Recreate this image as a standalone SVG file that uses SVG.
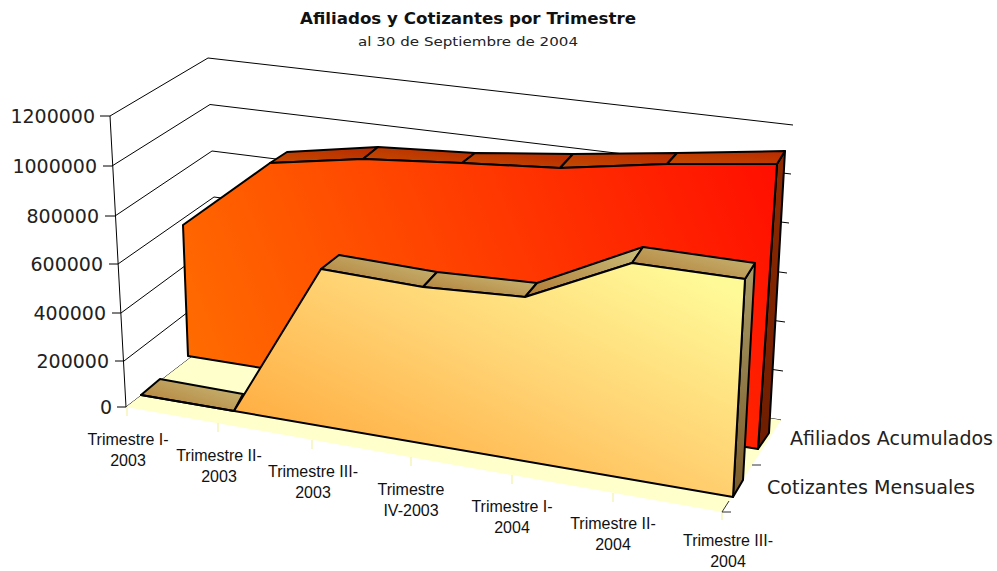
<svg xmlns="http://www.w3.org/2000/svg" width="997" height="571" viewBox="0 0 997 571">
<style>
.grid{stroke:#000;stroke-width:1;fill:none}
.edge{stroke:#000;stroke-width:2;stroke-linejoin:round}
.val{font-family:"DejaVu Sans",sans-serif;font-size:19px;fill:#222;text-anchor:end}
.cat{font-family:"Liberation Sans",Arial,sans-serif;font-size:16px;fill:#111;text-anchor:middle}
.ser{font-family:"DejaVu Sans",sans-serif;font-size:19px;fill:#222}
.ctick{stroke:#F5F5B8;stroke-width:1.5}
.dtick{stroke:#333;stroke-width:1}
</style>
<defs>
<linearGradient id="gOrange" gradientUnits="userSpaceOnUse" x1="190" y1="400" x2="780" y2="160">
<stop offset="0" stop-color="#FF6E00"/><stop offset="0.5" stop-color="#FF3E00"/><stop offset="1" stop-color="#FF0E00"/>
</linearGradient>
<linearGradient id="gYellow" gradientUnits="userSpaceOnUse" x1="300" y1="480" x2="458" y2="156">
<stop offset="0" stop-color="#FFA83A"/><stop offset="0.5" stop-color="#FFD070"/><stop offset="1" stop-color="#FFFA98"/>
</linearGradient>
<linearGradient id="gOTop" x1="0" y1="1" x2="1" y2="0">
<stop offset="0" stop-color="#C44C00"/><stop offset="1" stop-color="#B82800"/>
</linearGradient>
<linearGradient id="gOSide" x1="0" y1="0" x2="0" y2="1">
<stop offset="0" stop-color="#8E2A00"/><stop offset="1" stop-color="#6E1C00"/>
</linearGradient>
<linearGradient id="gYTop" x1="0" y1="1" x2="1" y2="0">
<stop offset="0" stop-color="#B07A34"/><stop offset="1" stop-color="#CABE7C"/>
</linearGradient>
<linearGradient id="gYSide" x1="0" y1="0" x2="0" y2="1">
<stop offset="0" stop-color="#A89C68"/><stop offset="1" stop-color="#7A5A28"/>
</linearGradient>
</defs>
<rect width="997" height="571" fill="#fff"/>

<g id="title">
<text x="468" y="24" font-family="DejaVu Sans,sans-serif" font-weight="bold" font-size="16" fill="#111" text-anchor="middle" textLength="336" lengthAdjust="spacingAndGlyphs">Afiliados y Cotizantes por Trimestre</text>
<text x="468" y="46" font-family="DejaVu Sans,sans-serif" font-size="13" fill="#222" text-anchor="middle" textLength="220" lengthAdjust="spacingAndGlyphs">al 30 de Septiembre de 2004</text>
</g>

<g id="walls">
<line class="grid" x1="126" y1="407" x2="220" y2="335"/>
<line class="grid" x1="124" y1="361" x2="218" y2="289"/>
<line class="grid" x1="121" y1="313" x2="216" y2="243"/>
<line class="grid" x1="118" y1="264" x2="214" y2="197"/>
<line class="grid" x1="115" y1="216" x2="212" y2="151"/>
<line class="grid" x1="112" y1="166" x2="210" y2="104.5"/>
<line class="grid" x1="110" y1="116" x2="208" y2="58"/>
<line class="grid" x1="220" y1="335" x2="781" y2="420"/>
<line class="grid" x1="218" y1="289" x2="783" y2="371"/>
<line class="grid" x1="216" y1="243" x2="785" y2="322"/>
<line class="grid" x1="214" y1="197" x2="787" y2="273"/>
<line class="grid" x1="212" y1="151" x2="789" y2="223"/>
<line class="grid" x1="210" y1="104.5" x2="791" y2="174"/>
<line class="grid" x1="208" y1="58" x2="793" y2="125"/>
</g>

<g id="floor">
<polygon points="126,407 722,512 781,420 220,335" fill="#FFFFCC"/>
<line class="ctick" x1="127" y1="407" x2="127" y2="416"/>
<line class="ctick" x1="218" y1="423" x2="218" y2="432"/>
<line class="ctick" x1="312" y1="440" x2="312" y2="449"/>
<line class="ctick" x1="411" y1="457" x2="411" y2="466"/>
<line class="ctick" x1="512" y1="475" x2="512" y2="484"/>
<line class="ctick" x1="613" y1="493" x2="613" y2="502"/>
<line class="ctick" x1="722" y1="512" x2="722" y2="520"/>
<line class="dtick" x1="722" y1="512" x2="731" y2="512"/>
<line class="dtick" x1="752" y1="465" x2="761" y2="465"/>
<line class="dtick" x1="722" y1="512" x2="729" y2="501"/>
</g>

<g id="series-afiliados">
<polygon class="edge" fill="url(#gOSide)" points="777,164 785,151 769,433 758,449"/>
<polygon class="edge" fill="url(#gOTop)" points="270,163 363,159 378,147 287,152"/>
<polygon class="edge" fill="url(#gOTop)" points="363,159 462,163 475,153 378,147"/>
<polygon class="edge" fill="url(#gOTop)" points="462,163 560,168 573,154 475,153"/>
<polygon class="edge" fill="url(#gOTop)" points="560,168 667,164 677,153 573,154"/>
<polygon class="edge" fill="url(#gOTop)" points="667,164 777,164 785,151 677,153"/>
<polygon class="edge" fill="url(#gOrange)" points="188,356 183,225 270,163 363,159 462,163 560,168 667,164 777,164 758,449"/>
</g>

<g id="series-cotizantes">
<polygon class="edge" fill="url(#gYTop)" points="141,395 234,411 243,394 160,379"/>
<polygon class="edge" fill="url(#gYSide)" points="745,279 755,263 743,480 733,497"/>
<polygon class="edge" fill="url(#gYTop)" points="321,269 423,287 437,272 339,255"/>
<polygon class="edge" fill="url(#gYTop)" points="423,287 525,297 537,283 437,272"/>
<polygon class="edge" fill="url(#gYTop)" points="525,297 632,263 643,247 537,283"/>
<polygon class="edge" fill="url(#gYTop)" points="632,263 745,279 755,263 643,247"/>
<polygon class="edge" fill="url(#gYellow)" points="141,395 234,411 321,269 423,287 525,297 632,263 745,279 733,497"/>
</g>

<g id="value-axis">
<line class="grid" x1="110" y1="116" x2="126" y2="407"/>
<line class="grid" x1="100" y1="116" x2="110" y2="116"/>
<line class="grid" x1="103" y1="166" x2="112" y2="166"/>
<line class="grid" x1="105" y1="216" x2="115" y2="216"/>
<line class="grid" x1="109" y1="264" x2="118" y2="264"/>
<line class="grid" x1="112" y1="313" x2="121" y2="313"/>
<line class="grid" x1="115" y1="361" x2="124" y2="361"/>
<line class="grid" x1="117" y1="407" x2="126" y2="407"/>
<text class="val" x="95" y="123">1200000</text>
<text class="val" x="97" y="173">1000000</text>
<text class="val" x="99" y="223">800000</text>
<text class="val" x="103" y="271">600000</text>
<text class="val" x="106" y="320">400000</text>
<text class="val" x="109" y="368">200000</text>
<text class="val" x="112" y="414">0</text>
</g>

<g id="category-labels">
<text class="cat" x="128" y="445"><tspan x="128">Trimestre I-</tspan><tspan x="128" y="466">2003</tspan></text>
<text class="cat" x="219" y="461"><tspan x="219">Trimestre II-</tspan><tspan x="219" y="482">2003</tspan></text>
<text class="cat" x="313" y="477"><tspan x="313">Trimestre III-</tspan><tspan x="313" y="498">2003</tspan></text>
<text class="cat" x="411" y="495"><tspan x="411">Trimestre</tspan><tspan x="411" y="516">IV-2003</tspan></text>
<text class="cat" x="512" y="512"><tspan x="512">Trimestre I-</tspan><tspan x="512" y="533">2004</tspan></text>
<text class="cat" x="613" y="529"><tspan x="613">Trimestre II-</tspan><tspan x="613" y="550">2004</tspan></text>
<text class="cat" x="728" y="546"><tspan x="728">Trimestre III-</tspan><tspan x="728" y="567">2004</tspan></text>
</g>

<g id="series-labels">
<text class="ser" x="790" y="445" textLength="203" lengthAdjust="spacingAndGlyphs">Afiliados Acumulados</text>
<text class="ser" x="767" y="494" textLength="208" lengthAdjust="spacingAndGlyphs">Cotizantes Mensuales</text>
</g>
</svg>
